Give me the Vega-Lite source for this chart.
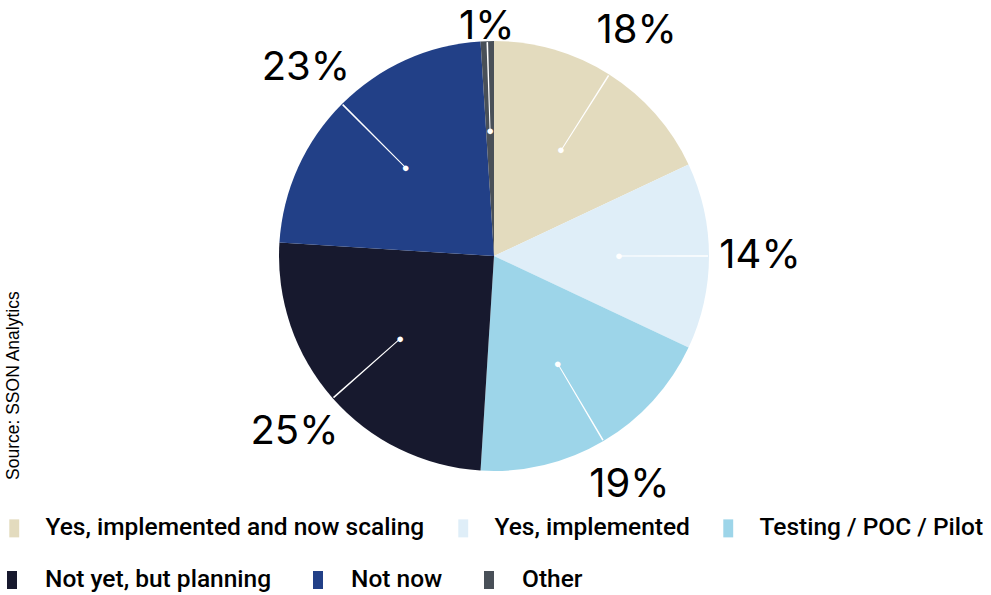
{
  "$schema": "https://vega.github.io/schema/vega-lite/v6.json",
  "width": 924,
  "height": 512,
  "autosize": {"type": "none"},
  "padding": {"left": 32, "top": 0, "right": 35, "bottom": 83},
  "background": "white",
  "title": {
    "text": "Source: SSON Analytics",
    "orient": "left",
    "anchor": "start",
    "frame": "group",
    "font": "Liberation Sans",
    "fontSize": 17.5,
    "fontWeight": "normal",
    "color": "#000000",
    "offset": -24,
    "dx": 32
  },
  "data": {
    "values": [
      {"category": "Yes, implemented and now scaling", "value": 18},
      {"category": "Yes, implemented", "value": 14},
      {"category": "Testing / POC / Pilot", "value": 19},
      {"category": "Not yet, but planning", "value": 25},
      {"category": "Not now", "value": 23},
      {"category": "Other", "value": 1}
    ]
  },
  "transform": [
    {"window": [{"op": "sum", "field": "value", "as": "cum"}], "frame": [null, 0], "ignorePeers": true},
    {"calculate": "datum.cum - datum.value", "as": "start"},
    {"calculate": "datum.cum - datum.value / 2", "as": "mid"},
    {"calculate": "datum.mid - 0.06", "as": "lineA"},
    {"calculate": "datum.mid + 0.06", "as": "lineB"},
    {"calculate": "datum.value + '%'", "as": "label"},
    {"calculate": "datum.category", "as": "category2"}
  ],
  "layer": [
    {
      "mark": {"type": "arc", "outerRadius": 215, "strokeWidth": 0},
      "encoding": {
        "theta": {"field": "start", "type": "quantitative", "scale": {"domain": [0, 100]}, "stack": null},
        "theta2": {"field": "cum"},
        "fill": {
          "field": "category",
          "type": "nominal",
          "scale": {
            "domain": ["Yes, implemented and now scaling", "Yes, implemented", "Testing / POC / Pilot", "Not yet, but planning", "Not now", "Other"],
            "range": ["#E3DBBE", "#DFEEF8", "#9DD5E9", "#17192E", "#224087", "#495058"]
          },
          "legend": {
            "orient": "none",
            "legendX": -30,
            "legendY": 516,
            "direction": "horizontal",
            "values": ["Yes, implemented and now scaling", "Yes, implemented", "Testing / POC / Pilot"],
            "title": null,
            "symbolType": "M-0.55,-1H0.55V1H-0.55Z",
            "symbolSize": 324,
            "symbolStrokeWidth": 0,
            "labelFont": "Roboto",
            "labelFontSize": 24.5,
            "labelFontWeight": 500,
            "labelColor": "#000000",
            "columnPadding": 26,
            "labelOffset": 19,
            "labelLimit": 600
          }
        },
        "stroke": {
          "field": "category2",
          "type": "nominal",
          "scale": {
            "domain": ["Not yet, but planning", "Not now", "Other"],
            "range": ["#17192E", "#224087", "#495058"]
          },
          "legend": {
            "orient": "none",
            "legendX": -34,
            "legendY": 566,
            "direction": "horizontal",
            "title": null,
            "symbolType": "M0,-1V1",
            "symbolSize": 324,
            "symbolStrokeWidth": 10,
            "symbolFillColor": "transparent",
            "labelFont": "Roboto",
            "labelFontSize": 24.5,
            "labelFontWeight": 500,
            "labelColor": "#000000",
            "columnPadding": 26,
            "labelOffset": 19,
            "labelLimit": 600,
            "encode": {
              "symbols": {"update": {"strokeWidth": {"value": 10}, "fill": {"value": "transparent"}}}
            }
          }
        }
      }
    },
    {
      "mark": {"type": "arc", "innerRadius": 125, "outerRadius": 214, "color": "#ffffff"},
      "encoding": {
        "theta": {"field": "lineA", "type": "quantitative", "stack": null},
        "theta2": {"field": "lineB"}
      }
    },
    {
      "mark": {"type": "text", "radius": 125, "text": "●", "color": "#ffffff", "fontSize": 13, "align": "center", "baseline": "middle"},
      "encoding": {
        "theta": {"field": "mid", "type": "quantitative", "stack": null}
      }
    },
    {
      "mark": {"type": "text", "fontSize": 40, "font": "Inter", "color": "#000000", "align": "center", "baseline": "middle"},
      "encoding": {
        "theta": {"field": "mid", "type": "quantitative", "stack": null},
        "radius": {"field": "value", "type": "quantitative", "scale": {"type": "linear", "domain": [1, 2], "range": [229, 266], "clamp": true, "zero": false}},
        "text": {"field": "label", "type": "nominal"}
      }
    }
  ]
}
